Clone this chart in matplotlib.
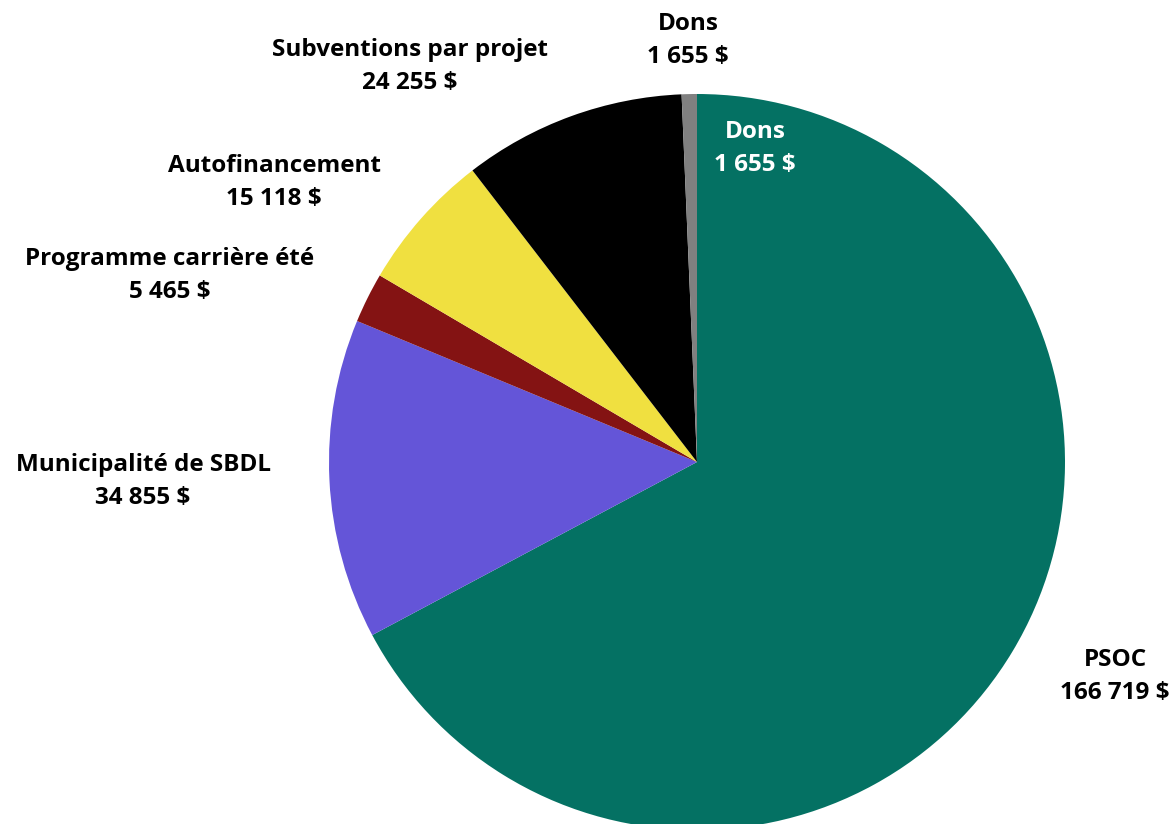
import matplotlib
matplotlib.use("Agg")
import matplotlib.pyplot as plt

categories = ["PSOC", "Municipalité de SBDL", "Programme carrière été",
              "Autofinancement", "Subventions par projet", "Dons"]
values = [166719, 34855, 5465, 15118, 24255, 1655]
value_labels = ["166 719 $", "34 855 $", "5 465 $", "15 118 $", "24 255 $", "1 655 $"]
colors = ["#047163", "#6455D8", "#841313", "#F0E040", "#000000", "#808080"]

W, H = 1172, 824
fig = plt.figure(figsize=(W / 100, H / 100), dpi=100)
ax = fig.add_axes([0, 0, 1, 1])

cx, cy, r = 697, H - 462, 368
ax.pie(values, colors=colors, startangle=90, counterclock=False,
       center=(cx, cy), radius=r, frame=True,
       wedgeprops=dict(linewidth=0, antialiased=True))
ax.set_xlim(0, W)
ax.set_ylim(0, H)
ax.set_aspect("equal")
ax.axis("off")

# label positions (pixel coordinates from the top-left)
label_pos = {
    "PSOC": (1115, 677),
    "Municipalité de SBDL": (143, 481),
    "Programme carrière été": (170, 275),
    "Autofinancement": (274, 182),
    "Subventions par projet": (410, 66),
    "Dons": (688, 40),
}
font = dict(family=["Open Sans", "DejaVu Sans"], fontweight="bold", fontsize=17.5)
for cat, val in zip(categories, value_labels):
    x, y = label_pos[cat]
    ax.text(x, H - y, f"{cat}\n{val}", ha="center", va="center",
            color="black", linespacing=1.5, **font)

# inner duplicate label for Dons
ax.text(755, H - 148, f"{categories[5]}\n{value_labels[5]}", ha="center",
        va="center", color="white", linespacing=1.5, **font)

fig.savefig("out.png", dpi=100)
